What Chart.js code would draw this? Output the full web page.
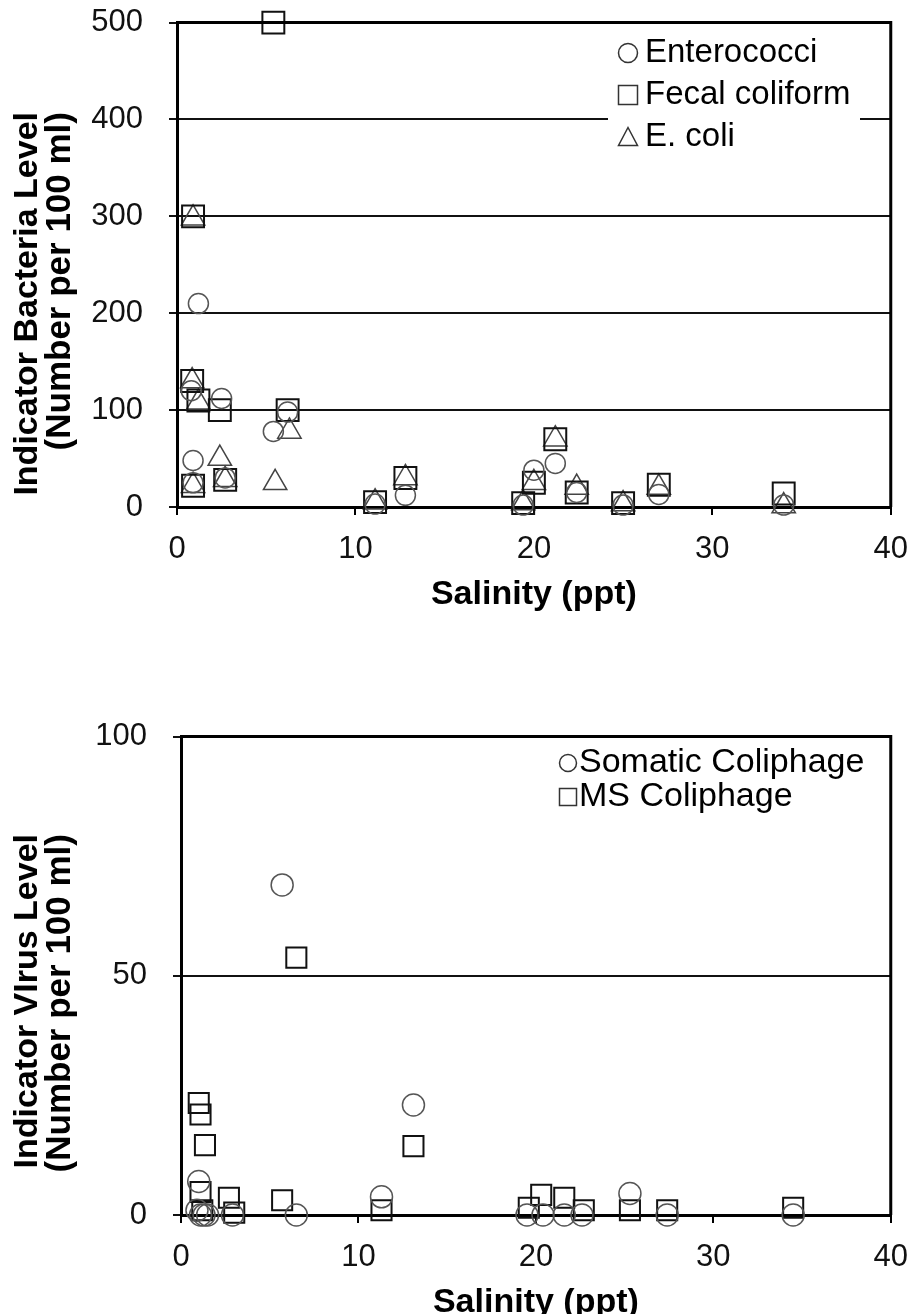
<!DOCTYPE html>
<html>
<head>
<meta charset="utf-8">
<title>Indicator levels vs salinity</title>
<script src="https://cdn.jsdelivr.net/npm/chart.js@4.4.1/dist/chart.umd.min.js"></script>
<style>
  html, body { margin: 0; padding: 0; background: #fff; overflow: hidden; }
  .wrap { position: absolute; left: 0; width: 918px; }
  #topWrap { top: -22px; height: 647px; }
  #bottomWrap { top: 692px; height: 641px; }
</style>
</head>
<body>
<div class="wrap" id="topWrap"><canvas id="bacteriaChart"></canvas></div>
<div class="wrap" id="bottomWrap"><canvas id="virusChart"></canvas></div>
<script>
// salinity (ppt) and level (number per 100 ml)
const enteroX = [1.2, 0.8, 0.9, 0.9, 2.5, 2.7, 5.4, 6.2, 11.1, 12.8, 19.4, 20.0, 21.2, 22.4, 25.0, 27.0, 34.0];
const enteroY = [210, 120, 48, 25, 112, 30, 78, 98, 3, 12, 2, 38, 45, 15, 2, 13, 2];

const fecalX = [0.9, 0.85, 1.2, 0.9, 2.4, 2.7, 5.4, 6.2, 11.1, 12.8, 19.4, 20.0, 21.2, 22.4, 25.0, 27.0, 34.0];
const fecalY = [300, 130, 110, 22, 100, 28, 500, 100, 5, 30, 4, 25, 70, 15, 4, 23, 14];

const ecoliX = [0.9, 0.85, 1.2, 0.9, 2.4, 2.7, 5.5, 6.3, 11.1, 12.8, 19.4, 20.0, 21.2, 22.4, 25.0, 27.0, 34.0];
const ecoliY = [298, 130, 108, 22, 50, 28, 25, 78, 5, 30, 4, 25, 70, 20, 3, 20, 1];

const somaticX = [1.0, 0.9, 1.1, 1.3, 1.5, 2.9, 5.7, 6.5, 11.3, 13.1, 19.5, 20.4, 21.6, 22.6, 25.3, 27.4, 34.5];
const somaticY = [7, 1, 0, 0, 0, 0, 69, 0, 3.8, 23, 0, 0, 0, 0, 4.5, 0, 0];

const msX = [1.0, 1.1, 1.35, 1.1, 1.2, 2.7, 3.0, 5.7, 6.5, 11.3, 13.1, 19.6, 20.3, 21.6, 22.7, 25.3, 27.4, 34.5];
const msY = [23.4, 21, 14.6, 4.8, 1, 3.6, 0.5, 3.1, 53.8, 1, 14.4, 1.5, 4.2, 3.6, 1, 1, 1, 1.5];

const xTitle = 'Salinity (ppt)';
const bacteriaTitle = ['Indicator Bacteria Level', '(Number per 100 ml)'];
const virusTitle = ['Indicator VIrus Level', '(Number per 100 ml)'];

const FONT = "'Liberation Sans', Arial, sans-serif";

function pts(xs, ys) {
    return xs.map((x, i) => ({ x: x, y: ys[i] }));
}

function drawMarker(ctx, style, x, y, s, color) {
    ctx.beginPath();
    if (style === 'circle') {
        ctx.arc(x, y, s / 2, 0, Math.PI * 2);
    } else if (style === 'rect') {
        ctx.rect(x - s / 2, y - s / 2, s, s);
    } else {
        ctx.moveTo(x, y - s / 2);
        ctx.lineTo(x + s / 2, y + s / 2 - 1);
        ctx.lineTo(x - s / 2, y + s / 2 - 1);
        ctx.closePath();
    }
    ctx.strokeStyle = color;
    ctx.lineWidth = 1.5;
    ctx.stroke();
}

// y title (end aligned at the top), white legend box, legend rows, top/right frame
// positions in opts are page coordinates; opts.top is where the canvas sits on the page
const framePlugin = {
    id: 'frame',
    afterDatasetsDraw(chart, args, opts) {
        const ctx = chart.ctx;
        ctx.save();
        ctx.translate(0, -opts.top);
        ctx.fillStyle = '#000';
        ctx.textBaseline = 'middle';
        opts.yTitle.forEach((line, i) => {
            ctx.save();
            ctx.translate(opts.yTitleX[i], opts.yTitleTop);
            ctx.rotate(-Math.PI / 2);
            ctx.textAlign = 'right';
            ctx.font = 'bold ' + opts.yTitleSize[i] + 'px ' + FONT;
            ctx.fillText(line, 0, 0);
            ctx.restore();
        });
        if (opts.box) {
            ctx.fillStyle = '#fff';
            ctx.fillRect(opts.box[0], opts.box[1], opts.box[2], opts.box[3]);
        }
        chart.data.datasets.forEach((ds, i) => {
            const y = opts.y + i * opts.dy;
            drawMarker(ctx, ds.pointStyle, opts.x, y, opts.size, '#333');
            ctx.fillStyle = '#000';
            ctx.font = opts.font;
            ctx.textAlign = 'left';
            ctx.fillText(ds.label, opts.textX, y);
        });
        ctx.restore();

        const a = chart.chartArea;
        ctx.save();
        ctx.strokeStyle = '#000';
        ctx.lineWidth = 3;
        ctx.beginPath();
        ctx.moveTo(a.left, a.top);
        ctx.lineTo(a.right, a.top);
        ctx.lineTo(a.right, a.bottom);
        ctx.stroke();
        ctx.restore();
    }
};

function makeChart(id, datasets, yMax, yStep, pad, yWidth, extra) {
    return new Chart(document.getElementById(id), {
        type: 'scatter',
        data: { datasets: datasets },
        plugins: [framePlugin],
        options: {
            responsive: true,
            maintainAspectRatio: false,
            animation: false,
            events: [],
            layout: { padding: pad },
            plugins: { legend: { display: false }, tooltip: { enabled: false }, frame: extra },
            scales: {
                x: {
                    min: 0, max: 40,
                    ticks: { stepSize: 10, padding: 10, color: '#111',
                             font: { family: FONT, size: 31, lineHeight: 1.6 } },
                    grid: { drawOnChartArea: false, color: '#000', lineWidth: 2, tickLength: 8 },
                    border: { color: '#000', width: 3 },
                    title: { display: true, text: xTitle, color: '#000', padding: { top: 0, bottom: 10 },
                             font: { family: FONT, size: 34, weight: 'bold', lineHeight: 1.2 } },
                    afterFit: s => { s.height = 118; }
                },
                y: {
                    min: 0, max: yMax,
                    ticks: { stepSize: yStep, padding: 26, color: '#111', font: { family: FONT, size: 31 } },
                    grid: { color: '#111', lineWidth: 2, tickLength: 8 },
                    border: { color: '#000', width: 3 },
                    afterFit: s => { s.width = yWidth; }
                }
            }
        }
    });
}

makeChart('bacteriaChart', [
    { label: 'Enterococci', data: pts(enteroX, enteroY), pointStyle: 'circle', pointRadius: 10, clip: false,
      borderColor: '#555', backgroundColor: 'transparent', borderWidth: 1.5 },
    { label: 'Fecal coliform', data: pts(fecalX, fecalY), pointStyle: 'rect', pointRadius: 15.5, clip: false,
      borderColor: '#111', backgroundColor: 'transparent', borderWidth: 2 },
    { label: 'E. coli', data: pts(ecoliX, ecoliY), pointStyle: 'triangle', pointRadius: 13.5, clip: false,
      borderColor: '#444', backgroundColor: 'transparent', borderWidth: 1.5 }
], 500, 100, { left: 6, top: 22, right: 27, bottom: 0 }, 171,
   { top: -22, x: 628, y: 53, dy: 42, size: 19, textX: 645, font: '33px ' + FONT, box: [608, 30, 252, 122],
     yTitle: bacteriaTitle, yTitleX: [28, 60], yTitleTop: 112, yTitleSize: [34, 35] });

makeChart('virusChart', [
    { label: 'Somatic Coliphage', data: pts(somaticX, somaticY), pointStyle: 'circle', pointRadius: 11, clip: false,
      borderColor: '#555', backgroundColor: 'transparent', borderWidth: 1.5 },
    { label: 'MS Coliphage', data: pts(msX, msY), pointStyle: 'rect', pointRadius: 14.2, clip: false,
      borderColor: '#111', backgroundColor: 'transparent', borderWidth: 2 }
], 100, 50, { left: 6, top: 37, right: 26, bottom: 0 }, 175,
   { top: 692, x: 568, y: 763, dy: 34, size: 17, textX: 579, font: '34px ' + FONT, box: null,
     yTitle: virusTitle, yTitleX: [28, 60], yTitleTop: 834, yTitleSize: [34, 35] });
</script>
</body>
</html>
